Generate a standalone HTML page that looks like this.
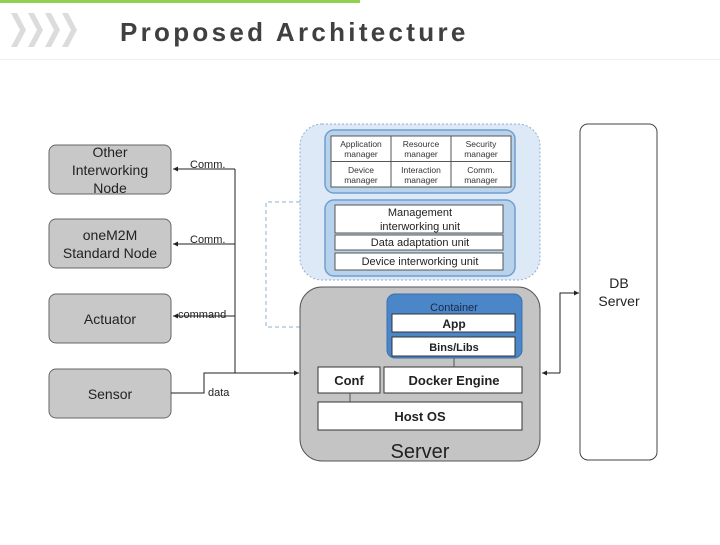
<!DOCTYPE html>
<html><head><meta charset="utf-8"><style>
body{margin:0;width:720px;height:540px;background:#fff;overflow:hidden;font-family:"Liberation Sans",sans-serif}
</style></head><body>
<svg width="720" height="540" viewBox="0 0 720 540" xmlns="http://www.w3.org/2000/svg" font-family="Liberation Sans, DejaVu Sans, sans-serif">
<defs><marker id="a" markerWidth="6" markerHeight="6" refX="5" refY="3" orient="auto"><path d="M0,0.5L5,3L0,5.5z" fill="#222"/></marker></defs>
<rect x="0" y="0" width="360" height="3" fill="#92d050"/>
<g fill="#dcdcdc">
<path d="M11,13h6l9,17l-9,17h-6l9,-17z"/><path d="M28,13h6l9,17l-9,17h-6l9,-17z"/><path d="M45,13h6l9,17l-9,17h-6l9,-17z"/><path d="M62,13h6l9,17l-9,17h-6l9,-17z"/>
</g>
<text x="120" y="41" font-size="26" font-weight="bold" fill="#404040" letter-spacing="3.3">Proposed Architecture</text>
<line x1="0" y1="59.5" x2="720" y2="59.5" stroke="#eee"/>
<g fill="#c8c8c8" stroke="#666" stroke-width="1">
<rect x="49" y="145" width="122" height="49" rx="7"/>
<rect x="49" y="219" width="122" height="49" rx="7"/>
<rect x="49" y="294" width="122" height="49" rx="7"/>
<rect x="49" y="369" width="122" height="49" rx="7"/>
</g>
<g font-size="14" fill="#222" text-anchor="middle">
<text x="110" y="157">Other</text><text x="110" y="175">Interworking</text><text x="110" y="193">Node</text>
<text x="110" y="240">oneM2M</text><text x="110" y="258">Standard Node</text>
<text x="110" y="324">Actuator</text>
<text x="110" y="399">Sensor</text>
</g>
<g stroke="#222" stroke-width="1" fill="none">
<line x1="235" y1="169" x2="235" y2="373"/>
<line x1="235" y1="169" x2="173" y2="169" marker-end="url(#a)"/>
<line x1="235" y1="244" x2="173" y2="244" marker-end="url(#a)"/>
<line x1="235" y1="316" x2="173" y2="316" marker-end="url(#a)"/>
<polyline points="171,393 204,393 204,373 299,373" marker-end="url(#a)"/>
<polyline points="324,162 312,162 312,237 324,237" marker-end="url(#a)"/>
<polyline points="560,373 560,293 579,293" marker-end="url(#a)"/>
<line x1="560" y1="373" x2="542" y2="373" marker-end="url(#a)"/>
</g>
<g font-size="11" fill="#222">
<text x="190" y="168">Comm.</text><text x="190" y="243">Comm.</text><text x="178" y="318">command</text><text x="208" y="396">data</text>
</g>
<rect x="300" y="124" width="240" height="156" rx="22" fill="#dde9f6" stroke="#8fb0d0" stroke-dasharray="2,2"/>
<polyline points="300,202 266,202 266,327 387,327" fill="none" stroke="#8fb0d0" stroke-dasharray="4,3"/>
<rect x="325" y="130" width="190" height="63" rx="9" fill="#b8d2ec" stroke="#6f9fcf" stroke-width="1.5"/>
<rect x="331" y="136" width="180" height="51" fill="#fff" stroke="#555"/>
<g stroke="#555"><line x1="391" y1="136" x2="391" y2="187"/><line x1="451" y1="136" x2="451" y2="187"/><line x1="331" y1="161.5" x2="511" y2="161.5"/></g>
<g font-size="8.5" fill="#333" text-anchor="middle">
<text x="361" y="147">Application</text><text x="361" y="157">manager</text>
<text x="421" y="147">Resource</text><text x="421" y="157">manager</text>
<text x="481" y="147">Security</text><text x="481" y="157">manager</text>
<text x="361" y="173">Device</text><text x="361" y="183">manager</text>
<text x="421" y="173">Interaction</text><text x="421" y="183">manager</text>
<text x="481" y="173">Comm.</text><text x="481" y="183">manager</text>
</g>
<rect x="325" y="200" width="190" height="76" rx="9" fill="#b8d2ec" stroke="#6f9fcf" stroke-width="1.5"/>
<g fill="#fff" stroke="#555"><rect x="335" y="205" width="168" height="28"/><rect x="335" y="235" width="168" height="15"/><rect x="335" y="253" width="168" height="17"/></g>
<g font-size="11" fill="#222" text-anchor="middle">
<text x="420" y="216">Management</text><text x="420" y="230">interworking unit</text>
<text x="420" y="246">Data adaptation unit</text><text x="420" y="265">Device interworking unit</text>
</g>
<rect x="300" y="287" width="240" height="174" rx="22" fill="#c4c4c4" stroke="#555"/>
<rect x="387" y="294" width="135" height="64" rx="8" fill="#4a86c8" stroke="#3a70b0"/>
<text x="454" y="311" font-size="11" fill="#1a2a4a" text-anchor="middle">Container</text>
<g fill="#fff" stroke="#333"><rect x="392" y="314" width="123" height="18"/><rect x="392" y="337" width="123" height="19"/>
<rect x="318" y="367" width="62" height="26"/><rect x="384" y="367" width="138" height="26"/><rect x="318" y="402" width="204" height="28"/></g>
<g stroke="#555"><line x1="454" y1="358" x2="454" y2="367"/><line x1="350" y1="393" x2="350" y2="402"/></g>
<g font-size="12" font-weight="bold" fill="#222" text-anchor="middle">
<text x="454" y="328">App</text><text x="454" y="351" font-size="11">Bins/Libs</text>
<text x="349" y="385" font-size="13">Conf</text><text x="454" y="385" font-size="13">Docker Engine</text><text x="420" y="421" font-size="13">Host OS</text>
</g>
<text x="420" y="458" font-size="20" fill="#222" text-anchor="middle">Server</text>
<rect x="580" y="124" width="77" height="336" rx="8" fill="#fff" stroke="#444"/>
<text x="619" y="288" font-size="14" fill="#222" text-anchor="middle">DB</text>
<text x="619" y="306" font-size="14" fill="#222" text-anchor="middle">Server</text>
</svg>
</body></html>
